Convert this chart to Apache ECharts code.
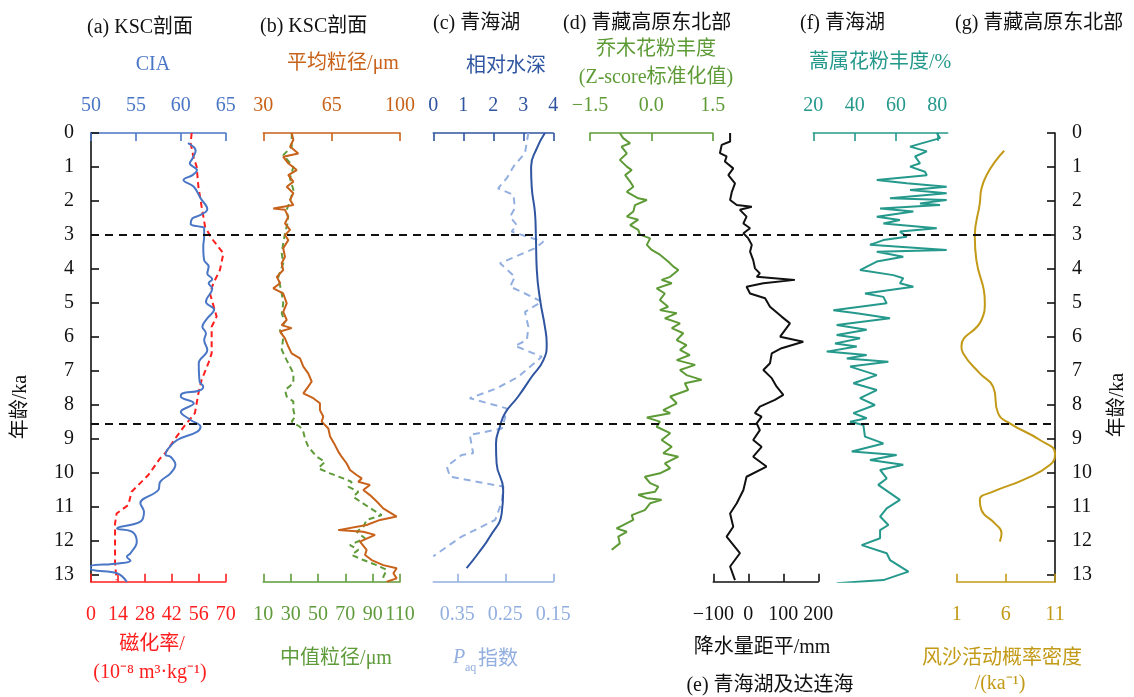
<!DOCTYPE html>
<html>
<head>
<meta charset="utf-8">
<script src="https://cdn.jsdelivr.net/npm/echarts@6/dist/echarts.min.js"></script>
<style>
  html, body { margin: 0; padding: 0; background: #fff; }
  #chart { width: 1134px; height: 697px; }
</style>
</head>
<body>
<div id="chart"></div>
<script>
// ---- Age scale (ka) ----
const ageTicks = [0, 1, 2, 3, 4, 5, 6, 7, 8, 9, 10, 11, 12, 13];
const boundaryAges = [3.0, 8.55];

// ---- (a) KSC section: CIA ----
const ciaAge = [0.30,0.52,0.75,0.89,1.09,1.24,1.38,1.58,1.92,2.24,2.41,2.51,2.68,2.74,2.80,3.05,3.34,3.74,3.93,4.13,4.30,4.42,4.57,4.96,5.20,5.45,5.70,5.89,6.09,6.38,6.77,7.31,7.46,7.58,7.66,7.75,7.95,8.20,8.44,8.64,8.79,9.03,9.32,9.47,9.52,9.76,10.01,10.26,10.50,10.89,11.14,11.43,11.63,11.73,12.02,12.36,12.46,12.58,12.66,12.75,12.85,12.95,13.2];
const ciaVal = [60.8,61.65,61.3,61.0,61.8,61.3,60.3,61.45,62.2,62.95,62.2,61.3,61.1,61.8,62.6,62.6,62.5,62.6,63.1,62.95,63.5,63.1,63.5,62.8,63.7,62.95,62.4,62.8,62.6,62.95,62.0,62.1,62.5,62.0,60.15,60.0,61.45,60.0,61.1,62.2,61.8,59.6,58.5,58.3,58.85,59.4,58.85,57.7,57.5,55.5,55.9,55.5,52.9,54.6,55.1,54.4,54.0,54.4,53.05,49.9,50.1,52.9,54.0];

// ---- (a) KSC section: magnetic susceptibility ----
const magAge = [0.0,0.3,0.7,0.99,1.58,2.17,2.76,3.1,3.54,4.03,4.42,4.72,5.4,5.7,6.48,6.77,7.26,7.66,8.24,8.59,8.93,9.42,9.57,10.06,10.55,10.94,11.19,11.48,12.66,13.15];
const magVal = [52.3,51.8,53.2,54.9,55.8,57.5,59.3,62.7,68.8,67.0,63.6,61.8,65.3,62.7,62.7,61.0,57.5,55.8,54.0,48.9,44.5,38.5,35.9,29.8,21.1,19.4,13.3,12.5,12.5,13.3];

// ---- (b) KSC section: mean grain size (um) ----
const meanAge = [0.0,0.2,0.4,0.6,0.7,0.89,1.09,1.24,1.43,1.58,1.77,1.97,2.12,2.22,2.26,2.46,2.66,2.85,3.0,3.15,3.39,3.64,3.83,4.03,4.23,4.42,4.57,4.72,5.01,5.26,5.5,5.65,5.74,5.84,6.04,6.28,6.48,6.63,6.87,7.07,7.31,7.46,7.66,7.8,7.95,8.15,8.34,8.49,8.69,8.93,9.18,9.37,9.52,9.72,9.91,10.06,10.16,10.26,10.35,10.5,10.65,10.84,11.04,11.28,11.38,11.53,11.68,11.73,11.82,12.02,12.26,12.41,12.56,12.71,12.8,12.95,13.1,13.2];
const meanVal = [44.5,45.4,43.7,47.9,40.2,42.8,47.1,42.8,45.4,42.0,45.4,43.7,45.4,35.1,41.1,42.8,41.1,43.7,41.1,42.8,40.2,41.1,39.4,40.2,36.9,38.6,35.1,40.2,42.0,40.2,42.0,39.4,44.5,38.6,41.1,42.8,44.5,48.8,50.5,53.0,54.8,53.0,50.5,55.6,59.0,59.0,60.7,59.9,63.3,64.2,66.7,68.4,70.1,72.7,74.4,77.8,80.4,78.6,84.6,81.2,84.6,88.1,91.4,98.3,89.8,82.9,68.4,81.2,87.2,79.5,82.9,82.1,85.5,91.4,98.3,96.6,98.3,93.2];

// ---- (b) KSC section: median grain size (um) ----
const medAge = [0.0,0.4,0.65,1.0,1.33,1.67,2.06,2.26,2.56,2.95,3.24,3.54,3.83,4.23,4.47,4.72,5.01,5.31,5.55,5.8,6.0,6.38,6.68,7.07,7.36,7.56,7.75,7.9,8.15,8.34,8.49,8.64,8.79,8.99,9.23,9.52,9.67,9.86,10.01,10.16,10.26,10.4,10.55,10.7,10.9,11.09,11.24,11.38,11.58,11.73,11.92,12.12,12.26,12.41,12.56,12.71,12.85,13.05,13.2];
const medVal = [30.8,30.8,24.6,32.0,29.5,32.0,29.0,27.1,28.3,25.9,24.6,23.5,24.6,21.0,22.2,23.5,24.6,23.5,25.9,22.2,24.6,23.5,27.1,32.0,32.0,25.9,27.1,32.0,32.0,33.2,30.8,36.8,39.3,40.5,42.9,49.1,55.1,50.2,58.8,68.5,74.7,72.2,79.5,75.8,83.2,90.5,96.6,85.6,83.2,78.3,84.4,73.4,79.5,74.7,83.2,93.0,100.3,97.8,99.0];

// ---- (c) Qinghai Lake: relative water depth ----
const depthAge = [0.0,0.45,0.99,1.58,2.36,3.05,4.03,4.91,5.7,6.19,6.68,7.17,7.75,8.24,8.64,9.13,9.72,10.5,11.19,11.87,12.36,12.8];
const depthVal = [3.72,3.45,3.26,3.28,3.39,3.42,3.45,3.56,3.72,3.78,3.67,3.28,2.83,2.39,2.22,2.09,2.11,2.33,2.28,1.89,1.5,1.11];

// ---- (c) Qinghai Lake: Paq index ----
const paqAge = [0.0,0.59,0.99,1.33,1.63,1.82,2.21,2.46,2.71,2.9,3.2,3.39,3.83,4.23,4.52,4.72,4.96,5.26,5.7,6.09,6.26,6.58,7.17,7.51,7.8,8.1,8.39,8.69,8.88,9.42,9.47,9.81,10.11,10.4,10.84,11.38,11.87,12.45];
const paqVal = [0.202,0.209,0.233,0.247,0.265,0.233,0.230,0.240,0.226,0.237,0.171,0.188,0.261,0.230,0.240,0.209,0.174,0.209,0.202,0.205,0.230,0.174,0.223,0.268,0.324,0.247,0.251,0.257,0.324,0.317,0.341,0.372,0.365,0.254,0.257,0.271,0.341,0.40];

// ---- (d) NE Tibetan Plateau: arboreal pollen (Z-score) ----
const treeAge = [0.0,0.15,0.3,0.4,0.6,0.79,0.99,1.09,1.24,1.43,1.58,1.73,1.92,1.97,2.12,2.31,2.46,2.55,2.71,2.85,2.99,3.1,3.29,3.44,3.58,3.78,3.93,4.03,4.23,4.32,4.42,4.57,4.72,4.91,5.11,5.21,5.3,5.45,5.6,5.74,5.89,6.09,6.24,6.38,6.53,6.68,6.82,6.97,7.12,7.26,7.36,7.56,7.75,7.95,8.15,8.24,8.37,8.49,8.64,8.83,9.03,9.23,9.42,9.52,9.72,9.86,10.01,10.11,10.3,10.4,10.55,10.64,10.74,10.79,10.89,11.09,11.24,11.38,11.53,11.63,11.73,11.87,12.07,12.26];
const treeVal = [-0.77,-0.69,-0.52,-0.73,-0.60,-0.77,-0.60,-0.48,-0.64,-0.52,-0.44,-0.60,-0.32,-0.11,-0.40,-0.44,-0.60,-0.32,-0.52,-0.32,-0.28,-0.03,-0.11,0.01,0.21,0.41,0.54,0.66,0.46,0.25,0.50,0.13,0.33,0.21,0.41,0.21,0.62,0.33,0.70,0.50,0.78,0.62,0.86,0.70,0.94,0.62,1.07,0.70,0.86,1.23,0.82,0.90,0.46,0.62,0.29,0.46,-0.11,0.21,0.13,0.46,0.25,0.50,0.29,0.66,0.33,0.46,0.21,-0.16,-0.03,0.17,0.09,-0.32,-0.11,0.25,-0.03,-0.16,-0.48,-0.44,-0.69,-0.85,-0.60,-0.81,-0.77,-0.97];

// ---- (e) Qinghai Lake & Dalian Lake: precipitation anomaly (mm) ----
const precAge = [0.0,0.25,0.35,0.59,0.69,0.84,1.04,1.24,1.48,1.73,1.97,2.12,2.17,2.26,2.46,2.66,2.80,2.95,3.1,3.29,3.49,3.74,3.98,4.13,4.23,4.32,4.42,4.52,4.72,4.86,5.11,5.4,5.6,5.99,6.14,6.33,6.48,6.77,6.97,7.21,7.46,7.7,7.85,8.05,8.24,8.34,8.54,8.74,9.03,9.23,9.52,9.81,10.11,10.5,10.89,11.19,11.58,11.87,12.36,12.75,13.15];
const precVal = [-52,-52,-76,-81,-62,-67,-43,-57,-38,-47,-52,-33,10,-24,-5,-14,5,-14,0,10,5,14,19,33,24,133,43,-5,5,48,62,95,119,91,157,95,67,62,43,67,81,100,76,33,19,38,24,33,14,38,14,52,-5,-14,-33,-52,-43,-62,-24,-52,-38];

// ---- (f) Qinghai Lake: Artemisia pollen (%) ----
const artAge = [0.0,0.15,0.4,0.54,0.69,0.89,0.99,1.14,1.24,1.38,1.48,1.58,1.68,1.77,1.92,1.97,2.07,2.12,2.22,2.31,2.46,2.56,2.66,2.80,2.90,3.05,3.15,3.29,3.44,3.49,3.64,3.78,4.03,4.18,4.27,4.42,4.52,4.72,4.82,5.01,5.21,5.3,5.45,5.65,5.79,5.94,6.04,6.19,6.28,6.43,6.53,6.63,6.73,6.87,7.12,7.36,7.56,7.8,8.0,8.24,8.39,8.49,8.59,8.93,9.13,9.37,9.47,9.62,9.76,9.91,10.16,10.35,10.79,11.04,11.28,11.53,11.68,11.92,12.12,12.36,12.56,12.9,13.15,13.24];
const artVal = [79.7,81.3,66.8,74.9,69.2,71.6,66.8,74.0,74.9,50.7,65.2,84.5,66.8,84.5,57.1,84.5,71.6,81.3,52.3,68.4,50.7,61.9,53.9,79.7,61.9,65.2,53.9,47.4,84.5,50.7,63.5,50.7,42.6,58.7,63.5,61.9,68.4,45.0,53.9,55.5,29.7,41.0,57.1,31.3,45.8,31.3,42.6,30.5,41.0,26.5,45.8,36.2,56.3,37.8,50.7,39.4,50.7,42.6,49.8,39.4,45.8,37.8,44.2,45.0,53.9,38.6,60.3,47.4,63.5,52.3,55.5,51.4,61.9,55.5,52.3,56.3,52.3,52.3,43.4,55.5,57.1,66.0,53.9,31.3];

// ---- (g) NE Tibetan Plateau: aeolian activity probability density (1/ka) ----
const aeoAge = [0.52,1.63,2.07,3.05,3.74,4.96,5.5,6.28,6.48,7.07,7.46,8.24,8.54,9.03,9.42,9.76,10.2,10.55,10.79,11.09,11.48,11.77,12.02];
const aeoVal = [5.83,3.52,3.35,2.84,3.0,3.86,3.52,1.48,1.65,3.35,4.7,5.21,6.4,9.47,11.0,10.5,7.77,4.7,3.35,3.52,4.88,5.56,5.39];

// ---- axis tick values ----
const ciaTicks = [50, 55, 60, 65];
const magTicks = [0, 14, 28, 42, 56, 70];
const meanTicks = [30, 65, 100];
const medTicks = [10, 30, 50, 70, 90, 110];
const depthTicks = [0, 1, 2, 3, 4];
const paqTicks = [0.15, 0.25, 0.35];
const treeTicks = [-1.5, 0, 1.5];
const precTicks = [-100, 0, 100, 200];
const artTicks = [20, 40, 60, 80];
const aeoTicks = [1, 6, 11];

const FONT = "'Liberation Serif', 'Noto Sans CJK SC', serif";
const C = {
  cia: '#4a76c6', mag: '#ff1e1e', mean: '#c8621a', med: '#5f9b3a',
  depth: '#2f54a0', paq: '#93afe0', tree: '#5e9b37', prec: '#111111',
  art: '#25998c', aeo: '#c39a17', ink: '#111111'
};

const AGE_MAX = 13.2;
const TOP = 133, HEIGHT = 448.8;

// panel column geometry (px)
const cols = [
  { left: 91,    width: 964 },   // full frame for age axes and boundaries
  { left: 91,    width: 134.7 }, // a
  { left: 263.3, width: 136.7 }, // b
  { left: 433.3, width: 120 },   // c
  { left: 590,   width: 122.7 }, // d
  { left: 713.3, width: 105 },   // e
  { left: 813.3, width: 134.4 }, // f
  { left: 956.7, width: 98.3 }   // g
];

const pairs = (vals, ages) => vals.map((v, i) => [v, ages[i]]);
const minus = s => String(s).replace('-', '\u2212');

function valueAxis(gridIndex, pos, min, max, ticks, color, fmt, inverse) {
  return {
    type: 'value', gridIndex, position: pos, min, max, inverse: !!inverse,
    axisLine: { show: true, onZero: false, lineStyle: { color, width: 1.6 } },
    axisTick: { show: true, inside: true, length: 8, customValues: ticks, lineStyle: { color, width: 1.6 } },
    axisLabel: {
      show: true, customValues: ticks, margin: pos === 'top' ? 17 : 23, color,
      fontFamily: FONT, fontSize: 20,
      formatter: fmt || (v => minus(v))
    },
    splitLine: { show: false }
  };
}

const xAxes = [
  { type: 'value', gridIndex: 0, min: 0, max: 1, show: false },
  valueAxis(1, 'top', 50, 65, ciaTicks, C.cia),
  valueAxis(1, 'bottom', 0, 70, magTicks, C.mag),
  valueAxis(2, 'top', 30, 100, meanTicks, C.mean),
  valueAxis(2, 'bottom', 10, 110, medTicks, C.med),
  valueAxis(3, 'top', 0, 4, depthTicks, C.depth),
  valueAxis(3, 'bottom', 0.15, 0.40, paqTicks, C.paq, v => v.toFixed(2), true),
  valueAxis(4, 'top', -1.5, 1.5, treeTicks, C.tree, v => minus(v.toFixed(1))),
  valueAxis(5, 'bottom', -100, 200, precTicks, C.prec),
  valueAxis(6, 'top', 20, 85, artTicks, C.art),
  valueAxis(7, 'bottom', 1, 11, aeoTicks, C.aeo)
];

function ageAxis(gridIndex, pos, visible) {
  return {
    type: 'value', gridIndex, position: pos, min: 0, max: AGE_MAX, inverse: true,
    show: visible,
    axisLine: { show: visible, onZero: false, lineStyle: { color: C.ink, width: 1.6 } },
    axisTick: { show: visible, inside: true, length: 8, customValues: ageTicks, lineStyle: { color: C.ink, width: 1.6 } },
    axisLabel: { show: visible, customValues: ageTicks, margin: 17, color: C.ink, fontFamily: FONT, fontSize: 20 },
    splitLine: { show: false }
  };
}

const yAxes = [ageAxis(0, 'left', true), ageAxis(0, 'right', true)];
for (let g = 1; g < cols.length; g++) yAxes.push(ageAxis(g, 'left', false));

function curve(xi, yi, vals, ages, color, opts) {
  opts = opts || {};
  return {
    type: 'line', xAxisIndex: xi, yAxisIndex: yi,
    data: pairs(vals, ages), symbol: 'none', smooth: opts.smooth || false,
    lineStyle: { color, width: opts.width || 2, type: opts.dash || 'solid' },
    z: opts.z || 3
  };
}

const series = [
  curve(2, 2, magVal, magAge, C.mag, { dash: [6, 4] }),
  curve(1, 2, ciaVal, ciaAge, C.cia, { smooth: 0.4 }),
  curve(4, 3, medVal, medAge, C.med, { dash: [6, 4] }),
  curve(3, 3, meanVal, meanAge, C.mean),
  curve(6, 4, paqVal, paqAge, C.paq, { dash: [7, 5] }),
  curve(5, 4, depthVal, depthAge, C.depth, { smooth: 0.5 }),
  curve(7, 5, treeVal, treeAge, C.tree),
  curve(8, 6, precVal, precAge, C.prec),
  curve(9, 7, artVal, artAge, C.art),
  curve(10, 8, aeoVal, aeoAge, C.aeo, { smooth: 0.5 }),
  {
    type: 'line', xAxisIndex: 0, yAxisIndex: 0, data: [[0, 0]],
    symbol: 'none', lineStyle: { opacity: 0 }, z: 5,
    markLine: {
      silent: true, symbol: 'none', animation: false,
      label: { show: false },
      lineStyle: { color: C.ink, type: [8, 6], width: 2 },
      data: boundaryAges.map(a => ({ yAxis: a }))
    }
  }
];

function txt(x, y, text, color, align, size, extra) {
  return Object.assign({
    type: 'text', x, y, silent: true,
    style: {
      text, fill: color, fontFamily: FONT, fontSize: size || 20,
      align: align || 'center', verticalAlign: 'middle'
    }
  }, extra || {});
}

const graphics = [
  // panel headings
  txt(87, 28, '(a) KSC剖面', C.ink, 'left'),
  txt(260, 27, '(b) KSC剖面', C.ink, 'left'),
  txt(433, 24, '(c) 青海湖', C.ink, 'left'),
  txt(563, 24, '(d) 青藏高原东北部', C.ink, 'left'),
  txt(800, 24, '(f) 青海湖', C.ink, 'left'),
  txt(955, 24, '(g) 青藏高原东北部', C.ink, 'left'),
  txt(770, 686, '(e) 青海湖及达连海', C.ink, 'center'),
  // upper axis titles
  txt(153, 65, 'CIA', C.cia),
  txt(343, 64, '平均粒径/μm', C.mean),
  txt(506, 67, '相对水深', C.depth),
  txt(656, 50, '乔木花粉丰度', C.tree),
  txt(656, 78, '(Z-score标准化值)', C.tree),
  txt(880, 63, '蒿属花粉丰度/%', C.art),
  // lower axis titles
  txt(152, 645, '磁化率/', C.mag),
  txt(150, 673, '(10\u207B\u2078 m\u00B3\u00B7kg\u207B\u00B9)', C.mag),
  txt(336, 659, '中值粒径/μm', C.med),
  txt(453, 658, 'P', C.paq, 'left', 20, { style: { text: 'P', fill: C.paq, fontFamily: FONT, fontSize: 20, fontStyle: 'italic', align: 'left', verticalAlign: 'middle' } }),
  txt(465, 668, 'aq', C.paq, 'left', 12),
  txt(478, 660, '指数', C.paq, 'left'),
  txt(762, 648, '降水量距平/mm', C.ink),
  txt(1002, 659, '风沙活动概率密度', C.aeo),
  txt(1000, 684, '/(ka\u207B\u00B9)', C.aeo),
  // age axis titles
  txt(21, 407, '年龄/ka', C.ink, 'center', 20, { rotation: Math.PI / 2 }),
  txt(1118, 405, '年龄/ka', C.ink, 'center', 20, { rotation: Math.PI / 2 })
];

const chart = echarts.init(document.getElementById('chart'), null, { renderer: 'canvas' });
chart.setOption({
  animation: false,
  backgroundColor: '#ffffff',
  grid: cols.map(c => ({ left: c.left, width: c.width, top: TOP, height: HEIGHT, containLabel: false })),
  xAxis: xAxes,
  yAxis: yAxes,
  series,
  graphic: graphics
});
</script>
</body>
</html>
